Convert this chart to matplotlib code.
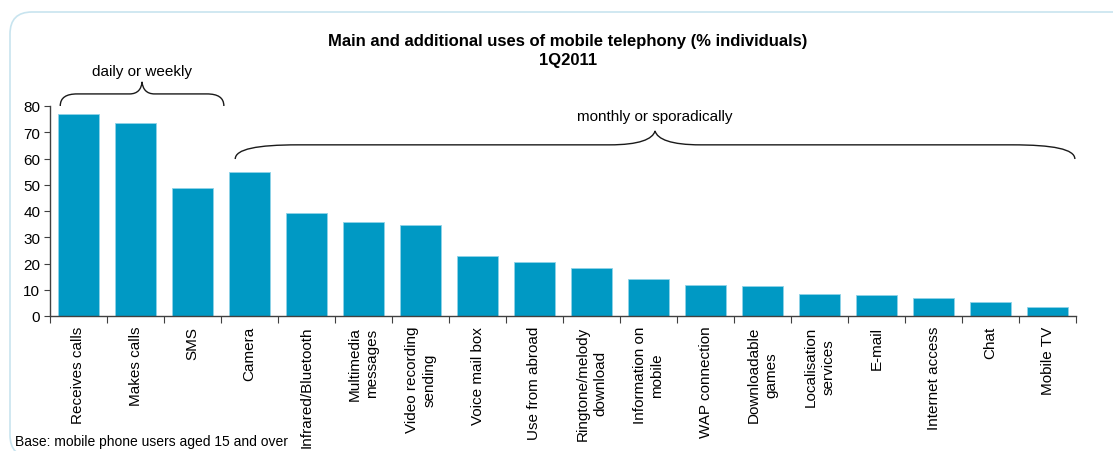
import matplotlib
matplotlib.use("Agg")
import matplotlib.pyplot as plt
from matplotlib.path import Path
from matplotlib.patches import PathPatch, FancyBboxPatch

plt.rcParams['font.family'] = ['Liberation Sans', 'DejaVu Sans']

categories = [
    "Receives calls", "Makes calls", "SMS", "Camera", "Infrared/Bluetooth",
    "Multimedia\nmessages", "Video recording\nsending", "Voice mail box",
    "Use from abroad", "Ringtone/melody\ndownload", "Information on\nmobile",
    "WAP connection", "Downloadable\ngames", "Localisation\nservices",
    "E-mail", "Internet access", "Chat", "Mobile TV",
]
values = [77.0, 73.6, 48.8, 54.8, 39.4, 35.8, 34.7, 22.8, 20.6, 18.3,
          14.1, 11.7, 11.6, 8.4, 8.0, 6.9, 5.3, 3.4]
y_ticks = [0, 10, 20, 30, 40, 50, 60, 70, 80]

# groups of categories marked with braces: (first index, last index, label)
groups = [(0, 2, "daily or weekly"), (3, 17, "monthly or sporadically")]

BAR = "#0099c4"
AXIS = "#404040"

W, H = 11.13, 4.52
fig = plt.figure(figsize=(W, H), dpi=100)

# rounded frame around the whole chart
frame = FancyBboxPatch((0.10, -0.06), 11.3, H - 0.13 + 0.06,
                       boxstyle="round,pad=0,rounding_size=0.22",
                       transform=fig.dpi_scale_trans, fill=False,
                       edgecolor="#c8e4ef", linewidth=1.2)
fig.add_artist(frame)

ax = fig.add_axes([50 / 1113, 135 / 452, 1026 / 1113, 210 / 452])
x = list(range(len(categories)))
ax.bar(x, values, width=0.72, color=BAR, edgecolor="#8fd3e8",
       linewidth=0.6, zorder=2)

ax.set_xlim(-0.5, len(categories) - 0.5)
ax.set_ylim(0, 80)
ax.set_yticks(y_ticks)
ax.tick_params(axis='y', direction='out', length=4, width=0.8,
               color=AXIS, labelsize=11, pad=3)

# categories get labels at their centres, ticks sit on the boundaries
ax.set_xticks(x)
ax.set_xticklabels(categories, rotation=90, fontsize=11,
                   multialignment='center', va='top', ha='center')
for t in ax.get_xticklabels():
    t.set_linespacing(1.35)
ax.tick_params(axis='x', which='major', length=0, pad=7)
ax.set_xticks([i - 0.5 for i in range(len(categories) + 1)], minor=True)
ax.tick_params(axis='x', which='minor', direction='out', length=5,
               width=0.8, color=AXIS)

for s in ("top", "right"):
    ax.spines[s].set_visible(False)
for s in ("left", "bottom"):
    ax.spines[s].set_color(AXIS)
    ax.spines[s].set_linewidth(1.0)
    ax.spines[s].set_zorder(3)


def brace(ax, x0, x1, y_end, y_mid, y_tip, end_w, mid_w):
    """Curly brace opening downward, drawn in data coordinates."""
    xm = (x0 + x1) / 2
    verts = [
        (x0, y_end),
        (x0, y_end + (y_mid - y_end) * 0.7), (x0 + end_w * 0.35, y_mid), (x0 + end_w, y_mid),
        (xm - mid_w, y_mid),
        (xm - mid_w * 0.35, y_mid), (xm - mid_w * 0.05, y_mid + (y_tip - y_mid) * 0.4), (xm, y_tip),
        (xm + mid_w * 0.05, y_mid + (y_tip - y_mid) * 0.4), (xm + mid_w * 0.35, y_mid), (xm + mid_w, y_mid),
        (x1 - end_w, y_mid),
        (x1 - end_w * 0.35, y_mid), (x1, y_end + (y_mid - y_end) * 0.7), (x1, y_end),
    ]
    codes = ([Path.MOVETO] + [Path.CURVE4] * 3 + [Path.LINETO]
             + [Path.CURVE4] * 6 + [Path.LINETO] + [Path.CURVE4] * 3)
    ax.add_patch(PathPatch(Path(verts, codes), fill=False, edgecolor="#1a1a1a",
                           linewidth=1.0, clip_on=False, zorder=4))
    return xm


# daily/weekly brace
i0, i1, lab = groups[0]
xm = brace(ax, i0 - 0.32, i1 + 0.55, 80.0, 84.6, 89.2, 0.30, 0.22)
ax.text(xm, 93.5, lab, ha='center', va='center', fontsize=11, clip_on=False)

# monthly/sporadic brace
i0, i1, lab = groups[1]
xm = brace(ax, i0 - 0.25, i1 + 0.48, 59.8, 65.2, 70.5, 1.1, 0.8)
ax.text(xm, 76.3, lab, ha='center', va='center', fontsize=11, clip_on=False)

fig.text(568 / 1113, 1 - 51 / 452,
         "Main and additional uses of mobile telephony (% individuals)\n1Q2011",
         ha='center', va='center', multialignment='center',
         fontsize=12, fontweight='bold', linespacing=1.4)

fig.text(15 / 1113, 1 - 442 / 452, "Base: mobile phone users aged 15 and over",
         ha='left', va='center', fontsize=10)

fig.savefig("out.png", dpi=100)
